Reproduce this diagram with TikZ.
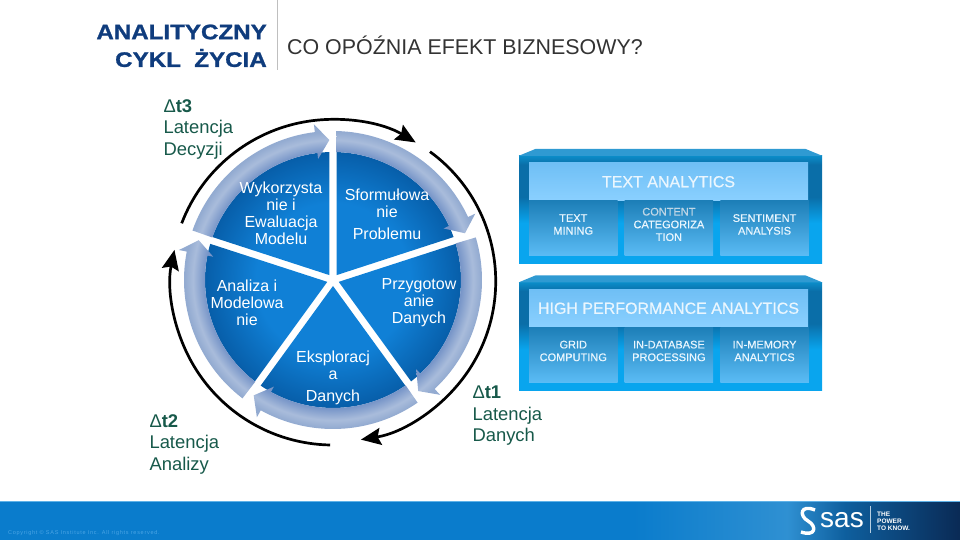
\documentclass[tikz,border=0pt]{standalone}
\usepackage{fontspec}
\setmainfont{Liberation Sans}
\newfontfamily\headfont[FakeStretch=1.15,FakeBold=1.2]{Liberation Sans}
\newfontfamily\copyfont[LetterSpace=13]{Liberation Sans}
\newfontfamily\boxfont[FakeBold=0.5]{Liberation Sans}
\usetikzlibrary{arrows.meta,positioning}
\definecolor{labelgreen}{HTML}{17594A}
\definecolor{headblue}{HTML}{0F3C7D}
\definecolor{titlegray}{HTML}{333333}
\definecolor{boxtext}{HTML}{EAF6FE}
\definecolor{contentgray}{HTML}{BFD6E6}
\definecolor{wedgein}{HTML}{1080D6}
\definecolor{wedgeout}{HTML}{075EA9}
\definecolor{bandin}{HTML}{7795C8}
\definecolor{bandmid}{HTML}{A9BCDB}
\definecolor{bandout}{HTML}{93ABD1}
\definecolor{panellow}{HTML}{09A5EE}
\definecolor{paneldark}{HTML}{0A6EA8}
\definecolor{paneltop}{HTML}{0B8CC8}
\definecolor{subtop}{HTML}{1D7FB8}
\definecolor{subbot}{HTML}{5BBCF5}
\definecolor{headtop}{HTML}{6FBFF5}
\definecolor{headbot}{HTML}{8AD0FF}
\definecolor{bevelcol}{HTML}{2F9AD2}
\definecolor{barblue}{HTML}{0A7CCC}
\definecolor{barlight}{HTML}{2F90D2}
\definecolor{barmid}{HTML}{0E5F9E}
\definecolor{bardark}{HTML}{0A2A55}
\definecolor{barline}{HTML}{5FB2E8}
\definecolor{copytext}{HTML}{4AA5E5}
\pgfdeclareradialshading{wedgeshade}{\pgfpoint{0bp}{0bp}}{
  color(0bp)=(wedgein); color(15bp)=(wedgein); color(25bp)=(wedgeout); color(50bp)=(wedgeout)}
\pgfdeclareradialshading{bandshade}{\pgfpoint{0bp}{0bp}}{
  color(0bp)=(bandin); color(20.4bp)=(bandin); color(22.3bp)=(bandmid); color(23.6bp)=(bandout); color(50bp)=(bandout)}
\pgfdeclareverticalshading{panelshade}{100bp}{
  color(0bp)=(panellow); color(44bp)=(panellow); color(56bp)=(paneldark); color(71bp)=(paneldark); color(75bp)=(paneltop); color(100bp)=(paneltop)}
\pgfdeclarehorizontalshading{barshade}{100bp}{
  color(0bp)=(barblue); color(58bp)=(barblue); color(66bp)=(barlight); color(69bp)=(barmid); color(75bp)=(bardark); color(100bp)=(bardark)}
\tikzset{
  wedgetext/.style={
      align=center,
      text=white,
      font=\fontsize{16}{17}\selectfont
  },
  latency/.style={
      anchor=west,
      align=left,
      text=labelgreen,
      font=\fontsize{18.4}{21.5}\selectfont
  },
  lifecycletext/.style={
      anchor=east,
      inner sep=0pt,
      text=headblue,
      font=\headfont\bfseries\fontsize{21}{24}\selectfont
  },
  ring/.style={
      line width=2.7pt,
      -{Stealth[length=20pt,width=17pt,inset=3pt]}
  },
  panel/.style={
      rectangle,
      inner sep=0pt,
      minimum width=303pt,
      minimum height=108pt,
      shading=panelshade
  },
  bevel/.style={
      fill=bevelcol
  },
  headbox/.style={
      rectangle,
      inner sep=0pt,
      minimum width=279pt,
      minimum height=37.5pt,
      top color=headtop,
      bottom color=headbot,
      text=boxtext,
      font=\boxfont\fontsize{16}{18}\selectfont
  },
  subbox/.style={
      rectangle,
      inner sep=0pt,
      minimum width=88.5pt,
      minimum height=55pt,
      align=center,
      top color=subtop,
      bottom color=subbot,
      text=boxtext,
      font=\boxfont\fontsize{11}{12.7}\selectfont
  }
}
\begin{document}
\begin{tikzpicture}[x=1pt,y=1pt,node distance=7pt]
    \useasboundingbox (0,0) rectangle (960,540);
    % heading
    \draw[black!25,line width=1pt] (277,540) -- (277,470);
    \node[lifecycletext] (lifecycle) at (267,508) {ANALITYCZNY};
    \node[lifecycletext] (lifecycleb) at (267,482) {CYKL~~ŻYCIA};
    \node[anchor=west,text=titlegray,font=\fontsize{21.4}{24}\selectfont,inner sep=0pt] (title) at (287,495) {CO OPÓŹNIA EFEKT BIZNESOWY?};
    % cycle
    \begin{scope}[shift={(333,260)}]
      \foreach \a [evaluate=\a as \b using \a-72] in {90,18,-54,-126,-198} {
        \begin{scope}
          \clip ({\a-36}:6) -- ({\a-1.6}:128) arc[start angle=\a-1.6,end angle=\b+1.6,radius=128] -- cycle;
          \shade[shading=wedgeshade] (0,0) circle[radius=128];
        \end{scope}
        \begin{scope}
          \clip ({\a-1.4}:128) -- ({\a-1.4}:149) arc[start angle=\a-1.4,end angle=\b+7,radius=149]
            -- ({\b+7}:157) -- ({\b+1.5}:140) -- ({\b+7}:122) -- ({\b+7}:128)
            arc[start angle=\b+7,end angle=\a-1.4,radius=128] -- cycle;
          \shade[shading=bandshade] (0,0) circle[radius=157];
        \end{scope}
      }
    \end{scope}
    \node[wedgetext] (evaluation) at (281,327) {Wykorzysta\\nie i\\Ewaluacja\\Modelu};
    \node[wedgetext] (problem) at (387,326) {Sformułowa\\nie\\[5pt]Problemu};
    \node[wedgetext] (preparation) at (419,237) {Przygotow\\anie\\Danych};
    \node[wedgetext] (exploration) at (333,162) {Eksploracj\\a\\[5pt]Danych};
    \node[wedgetext] (modelling) at (247,237) {Analiza i\\Modelowa\\nie};
    % outer arrows
    \coordinate (ringa) at (181.7,316.7);
    \coordinate (ringb) at (430,388.3);
    \coordinate (ringc) at (330.2,95);
    \draw[ring] (ringa) arc[start angle=159.1,end angle=59,radius=161.5];
    \draw[ring] (ringb) arc[start angle=53.8,end angle=-80.8,radius=160.5];
    \draw[ring] (ringc) arc[start angle=-91,end angle=-191.8,radius=162];
    \node[latency] (decision) at (160,411) {Δ\textbf{t3}\\Latencja\\Decyzji};
    \node[latency] (analysis) at (146,96) {Δ\textbf{t2}\\Latencja\\Analizy};
    \node[latency] (data) at (469,124) {Δ\textbf{t1}\\Latencja\\Danych};
    % text analytics
    \node[panel] (textpanel) at (670.5,330) {};
    \fill[bevel] (textpanel.north west) -- ([shift={(17,7)}]textpanel.north west) -- ([shift={(-17,7)}]textpanel.north east) -- (textpanel.north east) -- cycle;
    \node[headbox,below=7pt of textpanel.north,xshift=-2pt] (texthead) {TEXT ANALYTICS};
    \node[subbox,below right=0pt and 0pt of texthead.south west] (mining) {TEXT\\MINING\\[-4.7pt]};
    \node[subbox,right=6.75pt of mining] (content) {{\color{contentgray}CONTENT}\\CATEGORIZA\\TION\\[-4.7pt]};
    \node[subbox,right=6.75pt of content] (sentiment) {SENTIMENT\\ANALYSIS\\[-4.7pt]};
    % high performance analytics
    \node[panel] (hpapanel) at (670.5,203.5) {};
    \fill[bevel] (hpapanel.north west) -- ([shift={(17,7)}]hpapanel.north west) -- ([shift={(-17,7)}]hpapanel.north east) -- (hpapanel.north east) -- cycle;
    \node[headbox,below=7pt of hpapanel.north,xshift=-2pt] (hpahead) {HIGH PERFORMANCE ANALYTICS};
    \node[subbox,below right=0pt and 0pt of hpahead.south west] (grid) {GRID\\COMPUTING\\[-4.7pt]};
    \node[subbox,right=6.75pt of grid] (indatabase) {IN-DATABASE\\PROCESSING\\[-4.7pt]};
    \node[subbox,right=6.75pt of indatabase] (inmemory) {IN-MEMORY\\ANALYTICS\\[-4.7pt]};
    % footer
    \node[rectangle,inner sep=0pt,minimum width=960pt,minimum height=38pt,shading=barshade] (footerbar) at (480,19) {};
    \draw[barline,line width=1pt] (footerbar.north west) -- (footerbar.north east);
    \node[anchor=west,inner sep=0pt,text=copytext,font=\copyfont\fontsize{5.5}{6}\selectfont] (copyright) at (8,7) {Copyright © SAS Institute Inc. All rights reserved.};
    \draw[white,line width=3.4pt] (815,30) .. controls (800,36) and (799,24) .. (808,19) .. controls (817,14) and (816,3) .. (801,8);
    \node[anchor=west,inner sep=0pt,text=white,font=\fontsize{28}{28}\selectfont] (saslogo) at (820,20) {sas};
    \draw[white!70!barmid,line width=.6pt] (870,34) -- (870,7);
    \node[anchor=west,inner sep=0pt,align=left,text=white,font=\bfseries\fontsize{6.5}{7}\selectfont] (slogan) at (877,19) {THE\\POWER\\TO KNOW.};
\end{tikzpicture}
\end{document}
